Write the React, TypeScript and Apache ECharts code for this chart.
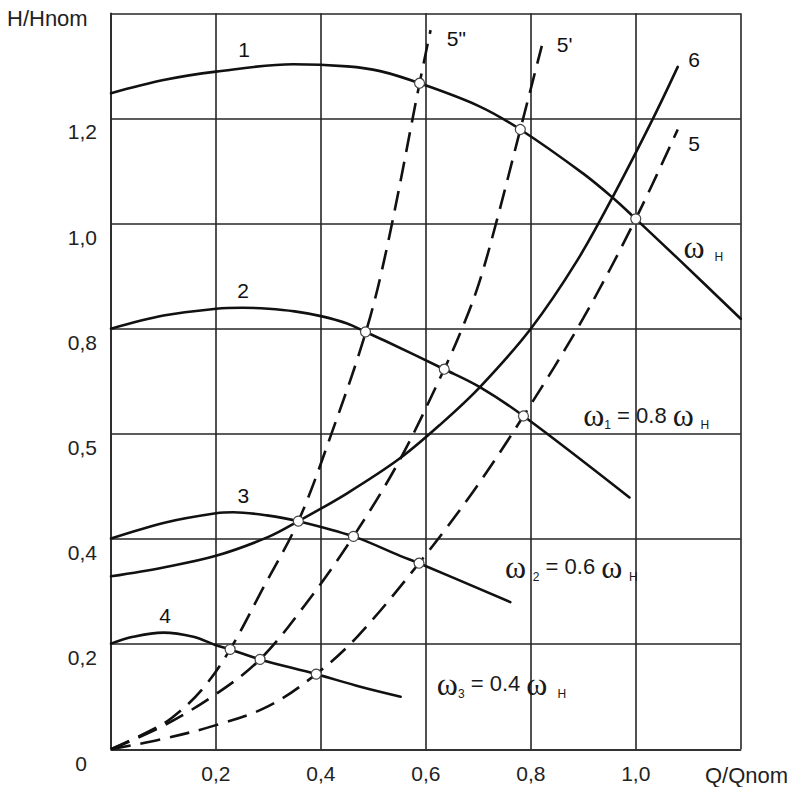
import React, { useEffect, useRef } from 'react';
import * as echarts from 'echarts';

const FONT = '"Liberation Sans", Arial, Helvetica, sans-serif';
const SERIF = '"Liberation Serif", "Times New Roman", serif';
const INK = '#111';
const GRID_INK = '#262626';

// Tick labels (kept exactly as printed on the diagram)
const X_TICK_LABELS = ['', '0,2', '0,4', '0,6', '0,8', '1,0', ''];
const Y_TICK_LABELS = ['', '0,2', '0,4', '0,5', '0,8', '1,0', '1,2', ''];

// Pump characteristics H/Hnom = f(Q/Qnom) at several speeds
const curve1: number[][] = [
  [0, 1.248], [0.1, 1.273], [0.2, 1.289], [0.347, 1.303], [0.45, 1.299], [0.513, 1.29],
  [0.588, 1.267], [0.7, 1.224], [0.78, 1.179], [0.9, 1.095], [0.961, 1.045], [1.0, 1.009],
  [1.085, 0.929], [1.2, 0.819],
];
const curve2: number[][] = [
  [0, 0.8], [0.1, 0.825], [0.2, 0.838], [0.25, 0.84], [0.3, 0.838], [0.35, 0.833],
  [0.4, 0.824], [0.45, 0.81], [0.485, 0.794], [0.52, 0.778], [0.635, 0.723], [0.703, 0.689],
  [0.786, 0.634], [0.988, 0.479],
];
const curve3: number[][] = [
  [0, 0.401], [0.106, 0.432], [0.2, 0.449], [0.233, 0.451], [0.297, 0.445], [0.357, 0.434],
  [0.462, 0.405], [0.551, 0.368], [0.587, 0.354], [0.761, 0.28],
];
const curve4: number[][] = [
  [0, 0.201], [0.042, 0.214], [0.1, 0.222], [0.157, 0.214], [0.2, 0.198], [0.227, 0.19],
  [0.284, 0.171], [0.391, 0.143], [0.475, 0.119], [0.552, 0.1],
];
// System characteristic with static head
const curve6: number[][] = [
  [0, 0.329], [0.1, 0.346], [0.2, 0.368], [0.3, 0.404], [0.357, 0.434], [0.45, 0.487],
  [0.55, 0.553], [0.63, 0.62], [0.703, 0.689], [0.8, 0.8], [0.888, 0.929], [0.96, 1.058],
  [1.034, 1.202], [1.08, 1.298],
];
// Similarity parabolas through the origin
const curve5: number[][] = [
  [0, 0], [0.1, 0.02], [0.2, 0.046], [0.3, 0.082], [0.391, 0.143], [0.47, 0.215],
  [0.587, 0.354], [0.69, 0.49], [0.786, 0.634], [0.9, 0.82], [1.0, 1.009], [1.08, 1.179],
];
const curve5a: number[][] = [
  [0, 0], [0.1, 0.045], [0.2, 0.105], [0.284, 0.171], [0.37, 0.275], [0.462, 0.405],
  [0.55, 0.55], [0.635, 0.723], [0.675, 0.815], [0.703, 0.892], [0.735, 1.005],
  [0.78, 1.179], [0.821, 1.338],
];
const curve5b: number[][] = [
  [0, 0], [0.07, 0.033], [0.115, 0.059], [0.172, 0.112], [0.227, 0.19], [0.29, 0.307],
  [0.357, 0.434], [0.42, 0.6], [0.486, 0.795], [0.526, 0.955], [0.588, 1.267], [0.609, 1.368],
];
// Operating points (intersections)
const operatingPoints: number[][] = [
  [0.588, 1.267], [0.78, 1.179], [1.0, 1.009],
  [0.485, 0.794], [0.635, 0.723], [0.786, 0.634],
  [0.357, 0.434], [0.462, 0.405], [0.587, 0.354],
  [0.227, 0.19], [0.284, 0.171], [0.391, 0.143],
];

// Curve numbers, anchored in data coordinates
const curveTags = [
  { text: '1', q: 0.2535, h: 1.332, align: 'center' },
  { text: '2', q: 0.2516, h: 0.872, align: 'center' },
  { text: '3', q: 0.252, h: 0.483, align: 'center' },
  { text: '4', q: 0.103, h: 0.255, align: 'center' },
  { text: '6', q: 1.111, h: 1.313, align: 'center' },
  { text: '5', q: 1.111, h: 1.152, align: 'center' },
  { text: '5"', q: 0.64, h: 1.353, align: 'left' },
  { text: "5'", q: 0.8496, h: 1.341, align: 'left' },
];
const speedTags = [
  { text: '{w|ω}{s|   H}', q: 1.091, h: 0.955 },
  { text: '{w|ω}{s|1}{n| = 0.8 }{w|ω}{s|  H}', q: 0.9, h: 0.635 },
  { text: '{w|ω}{s|  2}{n| = 0.6 }{w|ω}{s|  H}', q: 0.751, h: 0.347 },
  { text: '{w|ω}{s|3}{n| = 0.4 }{w|ω}{s|   H}', q: 0.621, h: 0.125 },
];

const App = () => {
  const ref = useRef<HTMLDivElement>(null);

  useEffect(() => {
    const chart = echarts.init(ref.current!, null, { renderer: 'svg' });

    const solid = (name: string, data: number[][]) => ({
      type: 'line',
      name,
      data,
      smooth: 0.35,
      symbol: 'none',
      showSymbol: false,
      silent: true,
      z: 3,
      lineStyle: { color: INK, width: 2.6, cap: 'round' },
    });
    const dashed = (name: string, data: number[][]) => ({
      ...solid(name, data),
      lineStyle: { color: INK, width: 2.6, type: [20, 10] },
    });

    const axisLine = { show: true, lineStyle: { color: GRID_INK, width: 1.6 } };
    const splitLine = { show: true, lineStyle: { color: GRID_INK, width: 1.6 } };

    chart.setOption({
      animation: false,
      backgroundColor: '#fff',
      grid: { left: 111, top: 13.3, right: 54.3, bottom: 37.7 },
      xAxis: {
        type: 'value',
        min: 0,
        max: 1.2,
        interval: 0.2,
        axisLine,
        splitLine,
        axisTick: { show: false },
        axisLabel: {
          margin: 14,
          color: '#222',
          fontFamily: FONT,
          fontSize: 21,
          formatter: (v: number) => X_TICK_LABELS[Math.round(v / 0.2)] ?? '',
        },
      },
      yAxis: {
        type: 'value',
        min: 0,
        max: 1.4,
        interval: 0.2,
        axisLine,
        splitLine,
        axisTick: { show: false },
        axisLabel: {
          margin: 14,
          color: '#222',
          fontFamily: FONT,
          fontSize: 21,
          verticalAlign: 'top',
          padding: [3, 0, 0, 0],
          formatter: (v: number) => Y_TICK_LABELS[Math.round(v / 0.2)] ?? '',
        },
      },
      series: [
        solid('1', curve1),
        solid('2', curve2),
        solid('3', curve3),
        solid('4', curve4),
        solid('6', curve6),
        dashed('5', curve5),
        dashed("5'", curve5a),
        dashed('5"', curve5b),
        {
          type: 'scatter',
          name: 'points',
          data: operatingPoints,
          symbol: 'circle',
          symbolSize: 10,
          silent: true,
          z: 5,
          itemStyle: { color: '#fff', opacity: 1, borderColor: '#444', borderWidth: 1.2 },
        },
      ],
    });

    const toPx = (q: number, h: number) =>
      chart.convertToPixel({ gridIndex: 0 }, [q, h]) as number[];

    const graphics: any[] = [];
    curveTags.forEach((t) => {
      const [x, y] = toPx(t.q, t.h);
      graphics.push({
        type: 'text',
        x,
        y,
        z: 10,
        style: {
          text: t.text,
          fill: INK,
          fontFamily: FONT,
          fontSize: 21,
          align: t.align,
          verticalAlign: 'middle',
        },
      });
    });
    speedTags.forEach((t) => {
      const [x, y] = toPx(t.q, t.h);
      graphics.push({
        type: 'text',
        x,
        y,
        z: 10,
        style: {
          text: t.text,
          fill: '#1a1a1a',
          fontFamily: FONT,
          fontSize: 22,
          align: 'left',
          verticalAlign: 'middle',
          rich: {
            w: { fontFamily: SERIF, fontSize: 32, fill: '#1a1a1a' },
            s: { fontFamily: FONT, fontSize: 12, fill: '#1a1a1a', verticalAlign: 'bottom' },
            n: { fontFamily: FONT, fontSize: 22, fill: '#1a1a1a' },
          },
        },
      });
    });
    // Axis titles and origin label
    graphics.push(
      {
        type: 'text',
        x: 7,
        y: 18,
        style: { text: 'H/Hnom', fill: '#222', fontFamily: FONT, fontSize: 22, align: 'left', verticalAlign: 'middle' },
      },
      {
        type: 'text',
        x: 705,
        y: 775,
        style: { text: 'Q/Qnom', fill: '#222', fontFamily: FONT, fontSize: 22, align: 'left', verticalAlign: 'middle' },
      },
      {
        type: 'text',
        x: 81,
        y: 763,
        style: { text: '0', fill: '#222', fontFamily: FONT, fontSize: 21, align: 'center', verticalAlign: 'middle' },
      },
    );
    chart.setOption({ graphic: graphics });

    return () => chart.dispose();
  }, []);

  return (
    <div
      ref={ref}
      style={{ position: 'fixed', left: 0, top: 0, width: 795, height: 787, background: '#fff' }}
    />
  );
};

export default App;
